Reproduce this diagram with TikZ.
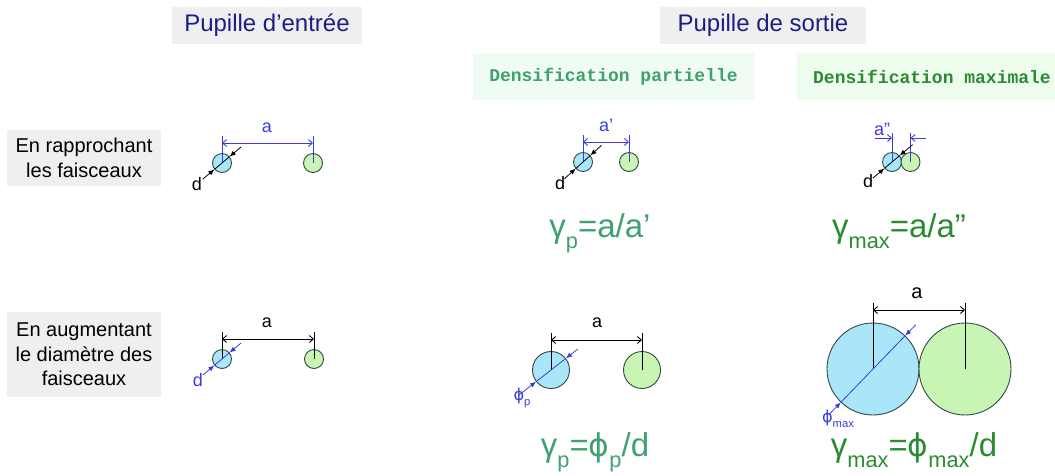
\documentclass[tikz,border=0pt]{standalone}
\usepackage{fontspec}
\setmainfont{Liberation Sans}
\setmonofont{Liberation Mono}
\newfontfamily\dvs{DejaVu Sans}
\usetikzlibrary{arrows.meta,calc}
\definecolor{navy}{HTML}{1E1E82}
\definecolor{boxgray}{HTML}{EFEFEF}
\definecolor{boxgreenA}{HTML}{F0FCF3}
\definecolor{boxgreenB}{HTML}{EEFCEE}
\definecolor{greenA}{HTML}{3FA070}
\definecolor{greenB}{HTML}{2A8C32}
\definecolor{dimblue}{HTML}{3C3CDC}
\definecolor{beamblue}{HTML}{AAE6FA}
\definecolor{beamgreen}{HTML}{C8F5B4}
\definecolor{beamline}{HTML}{304848}
\newcommand\lsub[1]{\raisebox{-0.34em}{\scalebox{0.66}{#1}}}
\newcommand\phib{{\dvs\scalebox{0.95}{ϕ}}}
\begin{document}
\begin{tikzpicture}[x=1pt,y=-1pt,
  titlebox/.style={fill=boxgray,inner sep=0pt,text=navy,font=\fontsize{24}{28}\selectfont},
  sidebox/.style={fill=boxgray,inner sep=0pt,align=center,text=black,font=\fontsize{20}{24.5}\selectfont},
  densbox/.style={inner sep=0pt,font=\fontsize{18}{20}\selectfont\ttfamily\bfseries},
  bbeam/.style={circle,draw=beamline,fill=beamblue,line width=0.9pt,inner sep=0pt},
  gbeam/.style={circle,draw=beamline,fill=beamgreen,line width=0.9pt,inner sep=0pt},
  dimline/.style={line width=0.9pt},
  dimarr/.style={dimline,{Straight Barb[length=4pt,width=7pt]}-{Straight Barb[length=4pt,width=7pt]}},
  diam/.style={line width=0.8pt},
  diamarr/.style={diam,-{Latex[length=6pt,width=5pt]}},
  lbl/.style={inner sep=0pt,font=\fontsize{18}{20}\selectfont},
  formula/.style={inner sep=0pt,anchor=base,font=\fontsize{33}{36}\selectfont}]
\useasboundingbox (0,0) rectangle (1055,475);

% headers
\node[titlebox,minimum width=190pt,minimum height=37pt] (t1) at (267,25.5) {Pupille d’entrée};
\node[titlebox,minimum width=206pt,minimum height=37pt] (t2) at (763,25.5) {Pupille de sortie};
\node[densbox,fill=boxgreenA,text=greenA,minimum width=281pt,minimum height=47pt] (dp) at (613.5,76.5) {Densification partielle};
\node[densbox,fill=boxgreenB,text=greenB,minimum width=270pt,minimum height=47pt] (dm) at (932,76.5) {Densification maximale};
\node[sidebox,minimum width=154pt,minimum height=56pt] (s1) at (84,158) {En rapprochant\\les faisceaux};
\node[sidebox,minimum width=154pt,minimum height=85pt] (s2) at (84,354.5) {En augmentant\\le diamètre des\\faisceaux};

% ---------- row 1, entrance pupil
\node[bbeam,minimum size=19pt] (b11) at (222,163) {};
\node[gbeam,minimum size=19pt] (g11) at (313,163) {};
\draw[dimline,dimblue] (b11.center) -- (b11.center |- 0,136);
\draw[dimline,dimblue] (g11.center) -- (g11.center |- 0,136);
\draw[dimarr,dimblue] (b11.center |- 0,143) -- (g11.center |- 0,143);
\node[lbl,text=dimblue] (la11) at (267,128) {a};
\draw[diam] (b11.220) -- (b11.40);
\draw[diamarr] ($(b11.220)+(220:15pt)$) -- (b11.220);
\draw[diamarr] ($(b11.40)+(40:15pt)$) -- (b11.40);
\node[lbl] (ld11) at (197,184) {d};

% ---------- row 1, partial
\node[bbeam,minimum size=19pt] (b12) at (583,162) {};
\node[gbeam,minimum size=19pt] (g12) at (629,162) {};
\draw[dimline,dimblue] (b12.center) -- (b12.center |- 0,135);
\draw[dimline,dimblue] (g12.center) -- (g12.center |- 0,135);
\draw[dimarr,dimblue] (b12.center |- 0,142) -- (g12.center |- 0,142);
\node[lbl,text=dimblue] (la12) at (606,125) {a’};
\draw[diam] (b12.222) -- (b12.42);
\draw[diamarr] ($(b12.222)+(222:15pt)$) -- (b12.222);
\draw[diamarr] ($(b12.42)+(42:15pt)$) -- (b12.42);
\node[lbl] (ld12) at (560,183) {d};
\node[formula,text=greenA] (f12) at (600,237) {γ\lsub{p}=a/a’};

% ---------- row 1, maximal
\node[bbeam,minimum size=19pt] (b13) at (892,162) {};
\node[gbeam,minimum size=19pt] (g13) at (910.5,162) {};
\draw[dimline,dimblue] (b13.center) -- (b13.center |- 0,133);
\draw[dimline,dimblue] (g13.center) -- (g13.center |- 0,133);
\coordinate (e13l) at (875,138);
\coordinate (e13r) at (926,138);
\draw[dimline,dimblue,-{Straight Barb[length=4pt,width=7pt]}] (e13l) -- (b13.center |- e13l);
\draw[dimline,dimblue,-{Straight Barb[length=4pt,width=7pt]}] (e13r) -- (g13.center |- e13r);
\node[lbl,text=dimblue] (la13) at (882,129) {a"};
\draw[diam] (b13.220) -- (b13.40);
\draw[diamarr] ($(b13.220)+(220:15pt)$) -- (b13.220);
\draw[diamarr] ($(b13.40)+(40:17pt)$) -- (b13.40);
\node[lbl] (ld13) at (868,181) {d};
\node[formula,text=greenB] (f13) at (899,237) {γ\lsub{max}=a/a”};

% ---------- row 2, entrance pupil
\node[bbeam,minimum size=19pt] (b21) at (222,359) {};
\node[gbeam,minimum size=19pt] (g21) at (314,359) {};
\draw[dimline] (b21.center) -- (b21.center |- 0,332);
\draw[dimline] (g21.center) -- (g21.center |- 0,332);
\draw[dimarr] (b21.center |- 0,339) -- (g21.center |- 0,339);
\node[lbl] (la21) at (267,323) {a};
\draw[diam,dimblue] (b21.220) -- (b21.40);
\draw[diamarr,dimblue] ($(b21.220)+(220:15pt)$) -- (b21.220);
\draw[diamarr,dimblue] ($(b21.40)+(40:15pt)$) -- (b21.40);
\node[lbl,text=dimblue] (ld21) at (198,380) {d};

% ---------- row 2, partial
\node[bbeam,minimum size=37pt] (b22) at (551,370) {};
\node[gbeam,minimum size=37pt] (g22) at (642,370) {};
\draw[dimline] (b22.center) -- (b22.center |- 0,333);
\draw[dimline] (g22.center) -- (g22.center |- 0,333);
\draw[dimarr] (b22.center |- 0,340) -- (g22.center |- 0,340);
\node[lbl] (la22) at (597,323) {a};
\draw[diam,dimblue] (b22.218) -- (b22.38);
\draw[diamarr,dimblue] ($(b22.218)+(218:22pt)$) -- (b22.218);
\draw[diamarr,dimblue] ($(b22.38)+(38:15pt)$) -- (b22.38);
\node[lbl,text=dimblue,font=\fontsize{17}{18}\selectfont] (ld22) at (522,398) {\phib\lsub{p}};
\node[formula,text=greenA] (f22) at (595,456) {γ\lsub{p}=\phib\lsub{p}/d};

% ---------- row 2, maximal
\node[bbeam,minimum size=92pt] (b23) at (873,369) {};
\node[gbeam,minimum size=92pt] (g23) at (965,369) {};
\draw[dimline] (b23.center) -- (b23.center |- 0,303);
\draw[dimline] (g23.center) -- (g23.center |- 0,303);
\draw[dimarr] (b23.center |- 0,310) -- (g23.center |- 0,310);
\node[lbl,font=\fontsize{20}{22}\selectfont] (la23) at (917,293) {a};
\draw[diam,dimblue] (b23.226) -- (b23.46);
\draw[diamarr,dimblue] ($(b23.226)+(226:17pt)$) -- (b23.226);
\draw[diamarr,dimblue] ($(b23.46)+(46:15pt)$) -- (b23.46);
\node[lbl,text=dimblue,font=\fontsize{17}{18}\selectfont] (ld23) at (838,419) {\phib\lsub{max}};
\node[formula,text=greenB] (f23) at (914,456) {γ\lsub{max}=\phib\lsub{max}/d};
\end{tikzpicture}
\end{document}
